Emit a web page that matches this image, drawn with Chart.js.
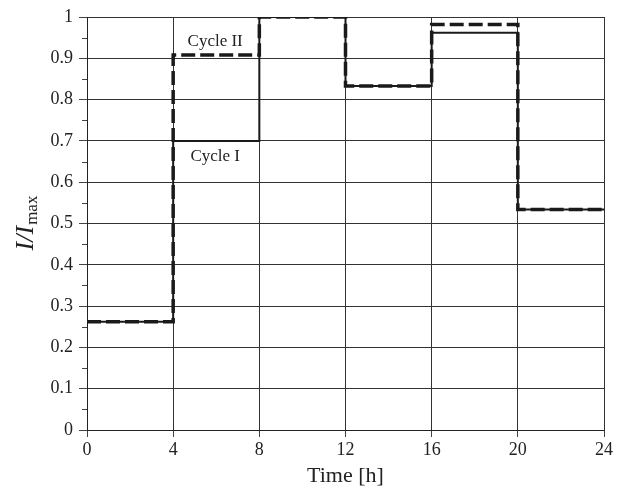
<!DOCTYPE html>
<html>
<head>
<meta charset="utf-8">
<script src="https://cdn.jsdelivr.net/npm/chart.js@4.4.0/dist/chart.umd.min.js"></script>
<style>
  html, body { margin: 0; padding: 0; background: #fff; }
  #wrap { width: 622px; height: 489px; }
</style>
</head>
<body>
<div id="wrap"><canvas id="chart" width="622" height="489"></canvas></div>
<script>
// Tiempo de inicio de cada tramo [h] (el último punto cierra el escalón)
const hours = [0, 4, 8, 12, 16, 20, 24];
// Corriente relativa I/Imax en cada tramo (último valor repetido para cerrar)
const cycle1 = [0.262, 0.70, 1.0, 0.833, 0.962, 0.534, 0.534];
const cycle2 = [0.262, 0.908, 1.0, 0.833, 0.982, 0.534, 0.534];
const seriesNames = ['Cycle I', 'Cycle II'];
// Etiquetas dentro del gráfico [x, y] en unidades de datos
const labelPos = [[5.95, 0.661], [5.95, 0.94]];

const FONT = '"Liberation Serif", "DejaVu Serif", serif';
const toXY = vals => hours.map((h, i) => ({ x: h, y: vals[i] }));

// Marcas menores del eje Y, etiquetas de las curvas y título del eje Y
const extras = {
    id: 'extras',
    afterDraw(chart) {
        const ctx = chart.ctx;
        const y = chart.scales.y;
        const x = chart.scales.x;
        const left = chart.chartArea.left;
        ctx.save();
        ctx.strokeStyle = '#444';
        ctx.lineWidth = 1;
        for (let v = 0.05; v < 1; v += 0.1) {
            const py = Math.round(y.getPixelForValue(v)) + 0.5;
            ctx.beginPath();
            ctx.moveTo(left - 5, py);
            ctx.lineTo(left, py);
            ctx.stroke();
        }
        ctx.fillStyle = '#222';
        ctx.font = '17px ' + FONT;
        ctx.textAlign = 'center';
        ctx.textBaseline = 'middle';
        seriesNames.forEach((name, i) => {
            ctx.fillText(name, x.getPixelForValue(labelPos[i][0]), y.getPixelForValue(labelPos[i][1]));
        });
        // I/Imax rotado
        ctx.translate(25, (chart.chartArea.top + chart.chartArea.bottom) / 2);
        ctx.rotate(-Math.PI / 2);
        ctx.textAlign = 'left';
        ctx.textBaseline = 'alphabetic';
        const main = 'I/I';
        ctx.font = 'italic 26px ' + FONT;
        const w1 = ctx.measureText(main).width;
        ctx.font = '17px ' + FONT;
        const w2 = ctx.measureText('max').width;
        const start = -(w1 + w2) / 2;
        ctx.font = 'italic 26px ' + FONT;
        ctx.fillText(main, start, 8);
        ctx.font = '17px ' + FONT;
        ctx.fillText('max', start + w1 + 1, 12);
        ctx.restore();
    }
};

new Chart(document.getElementById('chart'), {
    type: 'line',
    data: {
        datasets: [{
            label: seriesNames[1],
            data: toXY(cycle2),
            stepped: 'before',
            borderColor: '#1a1a1a',
            borderWidth: 3.5,
            borderDash: [14, 5],
            pointRadius: 0,
            fill: false,
            order: 0
        }, {
            label: seriesNames[0],
            data: toXY(cycle1),
            stepped: 'before',
            borderColor: '#1a1a1a',
            borderWidth: 2,
            pointRadius: 0,
            fill: false,
            order: 1
        }]
    },
    options: {
        responsive: false,
        animation: false,
        layout: { padding: { left: 0, right: 18, top: 17, bottom: 0 } },
        plugins: {
            legend: { display: false },
            tooltip: { enabled: false }
        },
        scales: {
            x: {
                type: 'linear',
                min: 0,
                max: 24,
                ticks: { stepSize: 4, color: '#222', font: { family: FONT, size: 18 }, padding: 2, maxRotation: 0 },
                grid: { color: '#333', lineWidth: 1, tickLength: 7, tickColor: '#444' },
                border: { color: '#222', width: 1 },
                title: { display: true, text: 'Time [h]', color: '#222', font: { family: FONT, size: 22 }, padding: { top: 6, bottom: 0 } },
                afterFit(scale) { scale.height = 59; }
            },
            y: {
                type: 'linear',
                min: 0,
                max: 1,
                ticks: {
                    stepSize: 0.1,
                    color: '#222',
                    font: { family: FONT, size: 18 },
                    padding: 6,
                    callback: v => Math.round(v * 10) / 10
                },
                grid: { color: '#333', lineWidth: 1, tickLength: 8, tickColor: '#444' },
                border: { color: '#222', width: 1 },
                afterFit(scale) { scale.width = 87; }
            }
        }
    },
    plugins: [extras]
});
</script>
</body>
</html>
